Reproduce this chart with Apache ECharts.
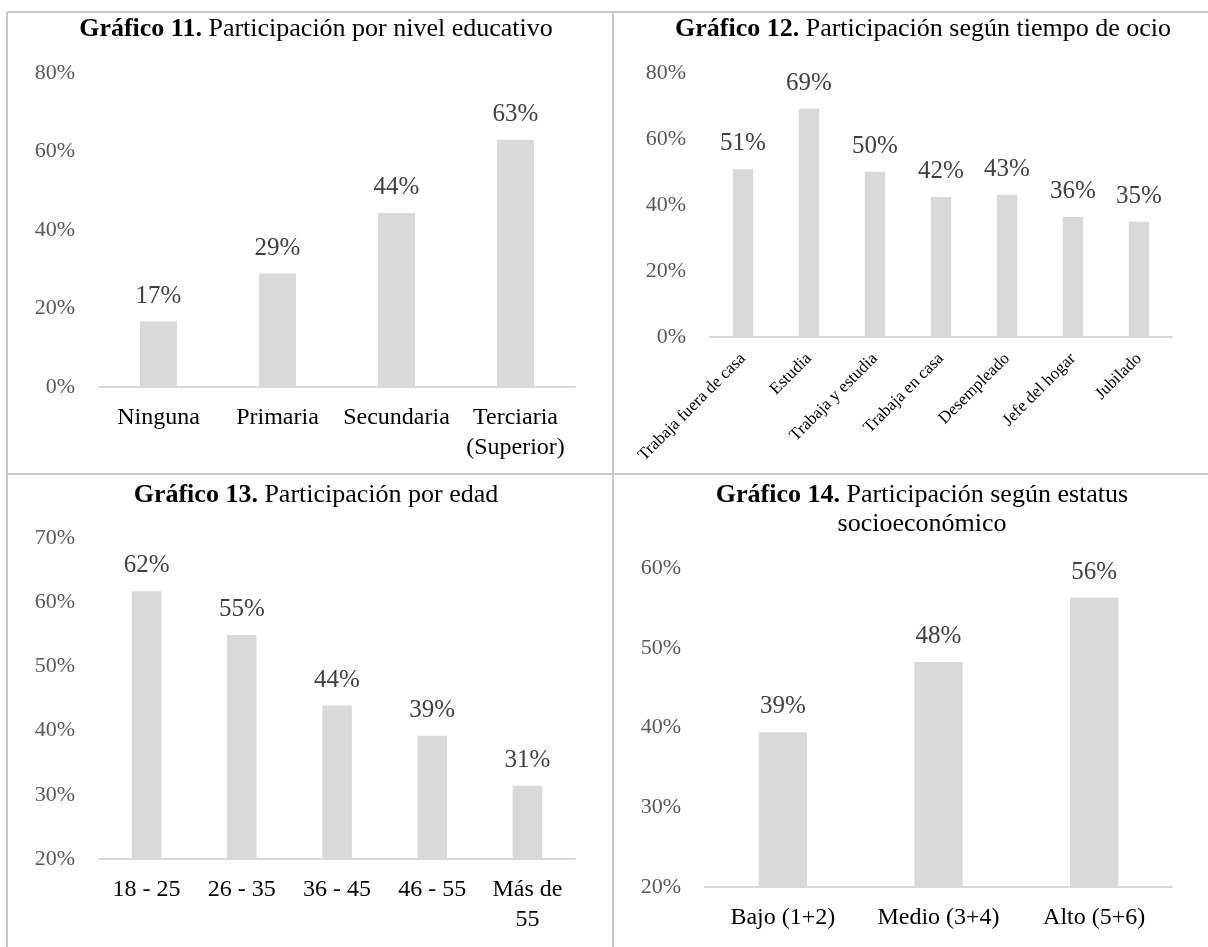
<!DOCTYPE html>
<html>
<head>
<meta charset="utf-8">
<title>Participación</title>
<script src="https://cdn.jsdelivr.net/npm/echarts@6/dist/echarts.min.js"></script>
<style>
  html, body { margin: 0; padding: 0; background: #fff; }
  #main { width: 1208px; height: 947px; }
</style>
</head>
<body>
<div id="main"></div>
<script type="text/javascript">
// datos de los cuatro gráficos
var catsEdu = ['Ninguna', 'Primaria', 'Secundaria', 'Terciaria\n(Superior)'];
var valsEdu = [0.167, 0.289, 0.443, 0.630];

var catsOcio = ['Trabaja fuera de casa', 'Estudia', 'Trabaja y estudia', 'Trabaja en casa', 'Desempleado', 'Jefe del hogar', 'Jubilado'];
var valsOcio = [0.508, 0.692, 0.501, 0.424, 0.431, 0.364, 0.349];

var catsEdad = ['18 - 25', '26 - 35', '36 - 45', '46 - 55', 'Más de\n55'];
var valsEdad = [0.617, 0.549, 0.439, 0.392, 0.314];

var catsNse = ['Bajo (1+2)', 'Medio (3+4)', 'Alto (5+6)'];
var valsNse = [0.394, 0.482, 0.563];

var FONT = "'Liberation Serif', 'Times New Roman', serif";
var myChart = echarts.init(document.getElementById('main'));

function pct(v) { return Math.round(v * 100) + '%'; }

function titulo(num, texto, x, y) {
  return {
    text: '{b|Gráfico ' + num + '.} ' + texto,
    left: x, top: y, textAlign: 'center',
    textStyle: {
      fontFamily: FONT, fontSize: 26, fontWeight: 'normal', color: '#000', lineHeight: 29,
      rich: { b: { fontFamily: FONT, fontSize: 26, fontWeight: 'bold', color: '#000', lineHeight: 29 } }
    }
  };
}

function ejeX(idx, cats, rot) {
  return {
    type: 'category', gridIndex: idx, data: cats,
    axisLine: { lineStyle: { color: '#d9d9d9', width: 2 } },
    axisTick: { show: false },
    axisLabel: rot ? {
      interval: 0, rotate: 45, margin: 19, color: '#000', fontFamily: FONT, fontSize: 17
    } : {
      interval: 0, margin: 16, color: '#000', fontFamily: FONT, fontSize: 24, lineHeight: 30
    }
  };
}

function ejeY(idx, min, max, step) {
  return {
    type: 'value', gridIndex: idx, min: min, max: max, interval: step,
    splitLine: { show: false }, axisLine: { show: false }, axisTick: { show: false },
    axisLabel: { margin: 24, color: '#595959', fontFamily: FONT, fontSize: 22, formatter: pct }
  };
}

function barras(idx, vals) {
  return {
    type: 'bar', xAxisIndex: idx, yAxisIndex: idx, data: vals, barWidth: '31%',
    itemStyle: { color: '#d9d9d9' },
    label: { show: true, position: 'top', distance: 13, color: '#404040', fontFamily: FONT, fontSize: 25, formatter: function (p) { return pct(p.value); } }
  };
}

var borde = { stroke: '#c8c8c8', lineWidth: 2 };

option = {
  animation: false,
  title: [
    titulo(11, 'Participación por nivel educativo', 311, 10),
    titulo(12, 'Participación según tiempo de ocio', 918, 10),
    titulo(13, 'Participación por edad', 311, 476),
    titulo(14, 'Participación según estatus\nsocioeconómico', 917, 476)
  ],
  grid: [
    { left: 99, top: 73, width: 476, height: 314 },
    { left: 710, top: 73, width: 462, height: 264 },
    { left: 99, top: 538, width: 476, height: 321 },
    { left: 705, top: 568, width: 467, height: 319 }
  ],
  xAxis: [ejeX(0, catsEdu), ejeX(1, catsOcio, true), ejeX(2, catsEdad), ejeX(3, catsNse)],
  yAxis: [ejeY(0, 0, 0.8, 0.2), ejeY(1, 0, 0.8, 0.2), ejeY(2, 0.2, 0.7, 0.1), ejeY(3, 0.2, 0.6, 0.1)],
  series: [barras(0, valsEdu), barras(1, valsOcio), barras(2, valsEdad), barras(3, valsNse)],
  graphic: [
    { type: 'line', shape: { x1: 7, y1: 12, x2: 1208, y2: 12 }, style: borde, silent: true },
    { type: 'line', shape: { x1: 7, y1: 12, x2: 7, y2: 947 }, style: borde, silent: true },
    { type: 'line', shape: { x1: 613, y1: 12, x2: 613, y2: 947 }, style: borde, silent: true },
    { type: 'line', shape: { x1: 7, y1: 474, x2: 1208, y2: 474 }, style: borde, silent: true }
  ]
};

myChart.setOption(option);
</script>
</body>
</html>
